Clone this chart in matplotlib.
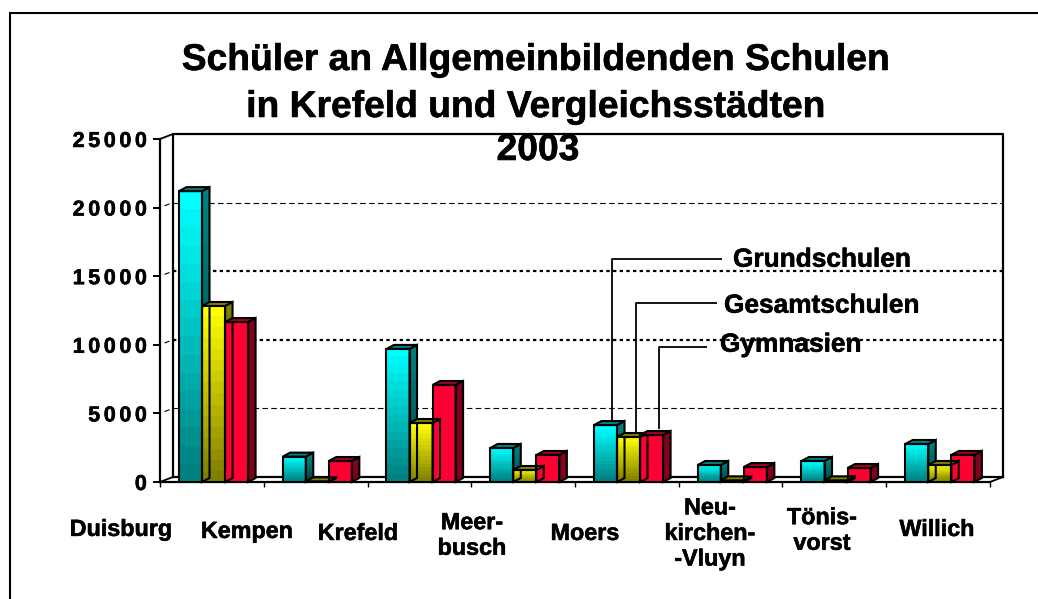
import numpy as np
import matplotlib
matplotlib.use('Agg')
import matplotlib.pyplot as plt
import matplotlib.patheffects as pe
from matplotlib.colors import LinearSegmentedColormap
from matplotlib.lines import Line2D
from matplotlib.patches import Polygon
from matplotlib.transforms import Affine2D, IdentityTransform

cities = ['Duisburg', 'Kempen', 'Krefeld', 'Meer-\nbusch', 'Moers',
          'Neu-\nkirchen-\n-Vluyn', 'Tönis-\nvorst', 'Willich']
grundschulen = [21200, 1850, 9700, 2480, 4150, 1240, 1530, 2770]
gesamtschulen = [12830, 50, 4300, 875, 3280, 120, 120, 1240]
gymnasien = [11660, 1530, 7070, 1970, 3425, 1090, 1020, 1970]
y_ticks = [0, 5000, 10000, 15000, 20000, 25000]
title_lines = ['Schüler an Allgemeinbildenden Schulen',
               'in Krefeld und Vergleichsstädten', '2003']

W, H = 1038, 599
DPI = 100
FONT = 'Liberation Sans'
BAR_W = 0.222
BAR_START = 0.183
DX, DY = 7.5, 4      # bar depth in pixels
WALL_DX, WALL_DY = 13, 5
BANDS = 16
EDGE = 1.5

plt.rcParams['font.family'] = FONT
plt.rcParams['font.weight'] = 'bold'
plt.rcParams['text.hinting'] = 'none'
HEAVY = [pe.withStroke(linewidth=0.4, foreground='black')]


def px(x, y):
    return x / W, 1 - y / H


def fig_line(fig, xs, ys, lw=1.3):
    fx, fy = zip(*[px(a, b) for a, b in zip(xs, ys)])
    fig.add_artist(Line2D(fx, fy, color='black', lw=lw, transform=fig.transFigure,
                          solid_capstyle='butt'))


def draw_bar(ax, x0, value, top, bottom, side_top, side_bottom, roof):
    x1 = x0 + BAR_W
    cmap = LinearSegmentedColormap.from_list('g', [bottom, top], N=BANDS)
    grad = np.linspace(1, 0, BANDS).reshape(-1, 1)
    ax.imshow(grad, extent=(x0, x1, 0, value), aspect='auto', cmap=cmap,
              vmin=0, vmax=1, zorder=3, interpolation='nearest')
    ax.bar(x0, value, BAR_W, align='edge', fill=False, edgecolor='black', lw=EDGE, zorder=5)

    # side and top faces are offset from the front face in pixels
    (ax0, ay0), (ax1, ay1) = ax.transData.transform([(x0, 0), (x1, value)])
    side_cmap = LinearSegmentedColormap.from_list('s', [side_top, side_bottom], N=BANDS)
    edges = np.linspace(ay1, ay0, BANDS + 1)
    for k in range(BANDS):
        c = side_cmap(k / (BANDS - 1))
        quad = [(ax1, edges[k]), (ax1 + DX, edges[k] + DY),
                (ax1 + DX, edges[k + 1] + DY), (ax1, edges[k + 1])]
        ax.add_patch(Polygon(quad, closed=True, transform=IdentityTransform(),
                             fc=c, ec=c, lw=0.5, zorder=3, clip_on=False))
    outline = [(ax1, ay1), (ax1 + DX, ay1 + DY), (ax1 + DX, ay0 + DY), (ax1, ay0)]
    ax.add_patch(Polygon(outline, closed=True, transform=IdentityTransform(),
                         fill=False, ec='black', lw=EDGE, zorder=5, clip_on=False))
    lid = [(ax0, ay1), (ax0 + DX, ay1 + DY), (ax1 + DX, ay1 + DY), (ax1, ay1)]
    ax.add_patch(Polygon(lid, closed=True, transform=IdentityTransform(),
                         fc=roof, ec='black', lw=EDGE, zorder=5, clip_on=False))


fig = plt.figure(figsize=(W / DPI, H / DPI), dpi=DPI)
ax = fig.add_axes([160 / W, (H - 482) / H, 830 / W, 343 / H])
ax.patch.set_alpha(0)
ax.set_xlim(0, 8)
ax.set_ylim(0, 25000)
ax.set_autoscale_on(False)

for s in ['top', 'right']:
    ax.spines[s].set_visible(False)
for s in ['left', 'bottom']:
    ax.spines[s].set_linewidth(1.6)

ax.set_xticks(range(9))
ax.set_xticklabels([])
ax.set_yticks(y_ticks)
ax.set_yticklabels(['\u200a\u200a'.join(str(v)) for v in y_ticks], fontsize=15.5, fontweight='bold',
                   path_effects=HEAVY)
ax.tick_params(axis='y', length=5, width=1.4, pad=4.5)
ax.tick_params(axis='x', length=3.5, width=1.0)

# back wall and floor
back = ax.transData + Affine2D().translate(WALL_DX, WALL_DY)
ax.plot([0, 0, 8, 8], [0, 25000, 25000, 0], color='black', lw=1.6, transform=back, zorder=1, clip_on=False)
ax.plot([0, 8], [0, 0], color='black', lw=1.6, transform=back, zorder=1, clip_on=False)
for xv in [0, 8]:
    xa, ya = ax.transData.transform((xv, 0))
    ax.plot([xa, xa + WALL_DX], [ya, ya + WALL_DY], color='black', lw=1.3,
            transform=IdentityTransform(), zorder=1, clip_on=False)
xa, ya = ax.transData.transform((0, 25000))
ax.plot([xa, xa + WALL_DX], [ya, ya + WALL_DY], color='black', lw=1.3,
        transform=IdentityTransform(), zorder=1, clip_on=False)

# gridlines on the back wall
for v in [5000, 20000]:
    ax.plot([0, 8], [v, v], color='black', lw=0.8, dashes=(5, 3), transform=back, zorder=1, clip_on=False)
for v in [10000, 15000]:
    ax.plot([0, 8], [v, v], color='black', lw=1.6, dashes=(1.5, 1.5), transform=back, zorder=1, clip_on=False)
for v in y_ticks[1:-1]:
    xa, ya = ax.transData.transform((0, v))
    ax.plot([xa + 5, xa + 9], [ya + 2, ya + 3.5], color='black', lw=0.8,
            transform=IdentityTransform(), zorder=1, clip_on=False)

for i in range(len(cities)):
    x = i + BAR_START
    draw_bar(ax, x, grundschulen[i], '#00FFFF', '#008080', '#008080', '#004848', '#008080')
    draw_bar(ax, x + BAR_W, gesamtschulen[i], '#FFFF00', '#808000', '#808000', '#484800', '#808000')
    draw_bar(ax, x + 2 * BAR_W, gymnasien[i], '#FF0033', '#FF0033', '#800019', '#800019', '#A00020')

# outer frame, only top and left show
fig_line(fig, [9.5, 9.5], [599, 12.5], lw=1.5)
fig_line(fig, [9, 1038], [12.5, 12.5], lw=1.5)

# title
for line, cx, base in zip(title_lines, [536, 536, 538], [70, 117, 160]):
    fx, fy = px(cx, base)
    fig.text(fx, fy, line, ha='center', va='baseline', fontsize=26.8, fontweight='bold', zorder=10,
             path_effects=HEAVY)

# category labels
label_x = [121, 247, 358, 472, 585, 710, 822, 937]
label_y = [530, 532, 534, 536, 534, 534, 531, 530]
for name, lx, ly in zip(cities, label_x, label_y):
    fx, fy = px(lx, ly)
    fig.text(fx, fy, name, ha='center', va='center', fontsize=16.8, fontweight='bold',
             linespacing=1.25, path_effects=HEAVY)

# series labels with leader lines
series = ['Grundschulen', 'Gesamtschulen', 'Gymnasien']
for name, tx, ty in zip(series, [733, 724, 720], [260, 306, 345]):
    fx, fy = px(tx, ty)
    fig.text(fx, fy, name, ha='left', va='center', fontsize=18.9, fontweight='bold', zorder=10,
             path_effects=HEAVY)
fig_line(fig, [611.5, 611.5, 722], [421, 258.5, 258.5], lw=1.3)
fig_line(fig, [635.5, 635.5, 717], [432, 302.5, 302.5], lw=1.3)
fig_line(fig, [659, 659, 707], [429, 347, 347], lw=1.3)

fig.savefig('out.png', dpi=DPI, facecolor='white')
